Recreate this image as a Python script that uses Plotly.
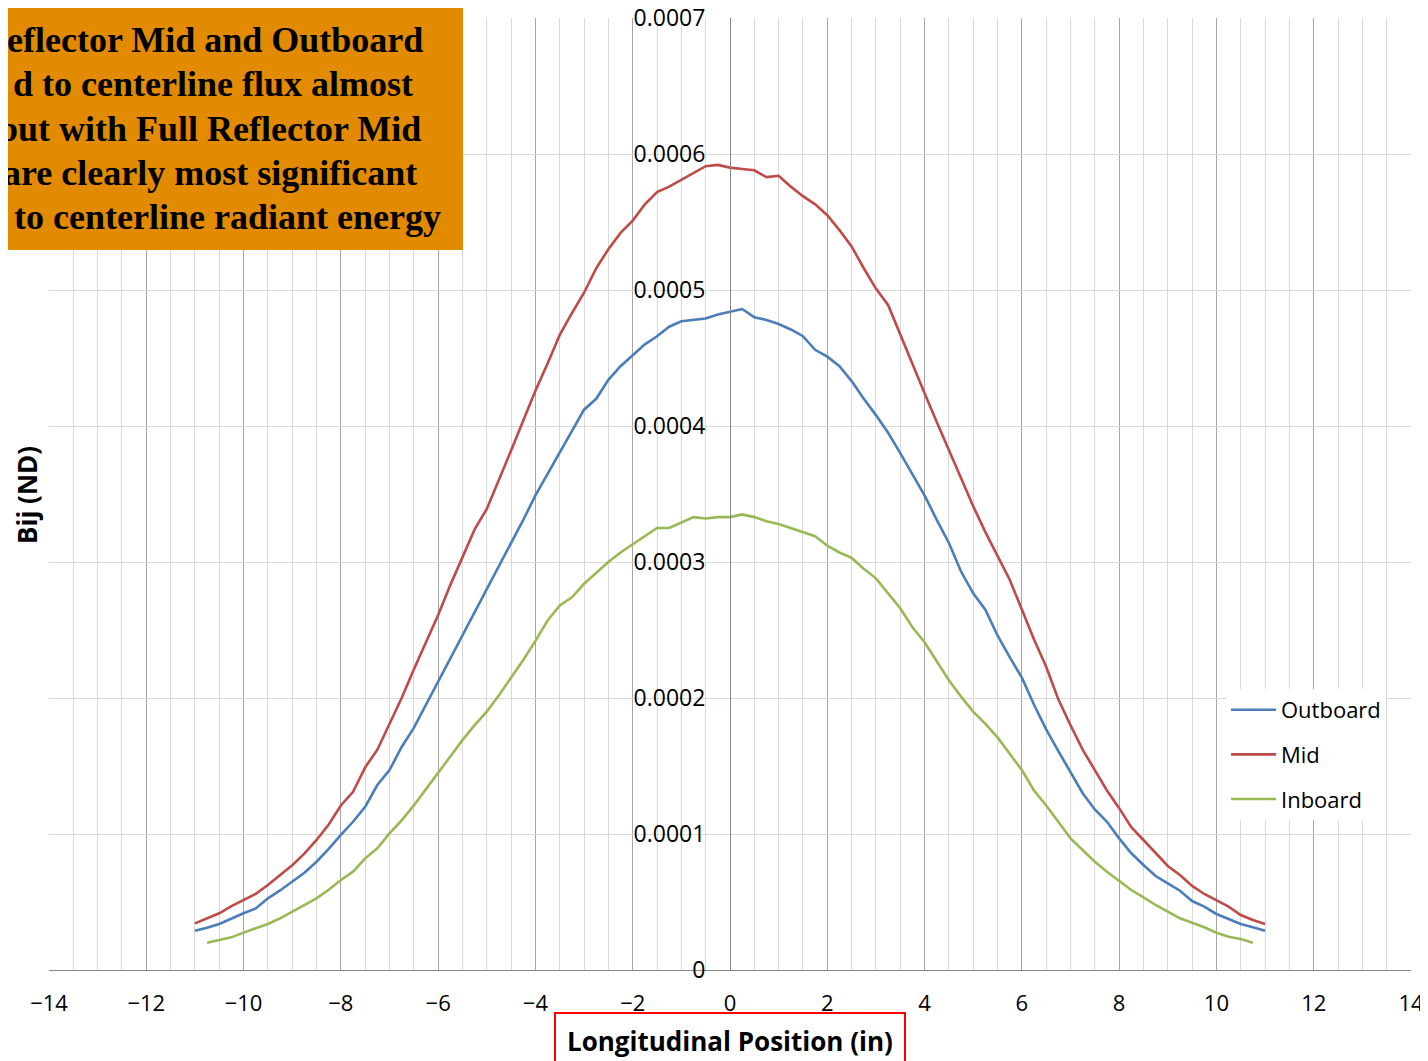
import plotly.graph_objects as go

# ---------------- data ----------------
pos_outer = [-11, -10.75, -10.5, -10.25, -10, -9.75, -9.5, -9.25, -9, -8.75, -8.5, -8.25, -8, -7.75,
             -7.5, -7.25, -7, -6.75, -6.5, -6.25, -6, -5.75, -5.5, -5.25, -5, -4.75, -4.5, -4.25,
             -4, -3.75, -3.5, -3.25, -3, -2.75, -2.5, -2.25, -2, -1.75, -1.5, -1.25, -1, -0.75,
             -0.5, -0.25, 0, 0.25, 0.5, 0.75, 1, 1.25, 1.5, 1.75, 2, 2.25, 2.5, 2.75, 3, 3.25,
             3.5, 3.75, 4, 4.25, 4.5, 4.75, 5, 5.25, 5.5, 5.75, 6, 6.25, 6.5, 6.75, 7, 7.25,
             7.5, 7.75, 8, 8.25, 8.5, 8.75, 9, 9.25, 9.5, 9.75, 10, 10.25, 10.5, 10.75, 11]

outboard = [2.89e-5, 3.10e-5, 3.38e-5, 3.80e-5, 4.17e-5, 4.53e-5, 5.27e-5, 5.85e-5, 6.49e-5, 7.15e-5,
            7.96e-5, 8.90e-5, 9.93e-5, 1.09e-4, 1.20e-4, 1.36e-4, 1.47e-4, 1.64e-4, 1.78e-4, 1.95e-4,
            2.12e-4, 2.29e-4, 2.46e-4, 2.62e-4, 2.79e-4, 2.96e-4, 3.14e-4, 3.31e-4, 3.49e-4, 3.65e-4,
            3.81e-4, 3.96e-4, 4.12e-4, 4.20e-4, 4.34e-4, 4.44e-4, 4.52e-4, 4.60e-4, 4.66e-4, 4.73e-4,
            4.77e-4, 4.78e-4, 4.79e-4, 4.82e-4, 4.84e-4, 4.86e-4, 4.80e-4, 4.78e-4, 4.75e-4, 4.71e-4,
            4.66e-4, 4.56e-4, 4.51e-4, 4.44e-4, 4.33e-4, 4.20e-4, 4.08e-4, 3.95e-4, 3.80e-4, 3.64e-4,
            3.49e-4, 3.31e-4, 3.14e-4, 2.93e-4, 2.77e-4, 2.65e-4, 2.46e-4, 2.30e-4, 2.15e-4, 1.95e-4,
            1.77e-4, 1.61e-4, 1.45e-4, 1.30e-4, 1.18e-4, 1.09e-4, 9.68e-5, 8.58e-5, 7.72e-5, 6.91e-5,
            6.37e-5, 5.83e-5, 5.07e-5, 4.66e-5, 4.12e-5, 3.73e-5, 3.38e-5, 3.14e-5, 2.89e-5]

mid = [3.43e-5, 3.80e-5, 4.17e-5, 4.70e-5, 5.15e-5, 5.60e-5, 6.25e-5, 6.95e-5, 7.70e-5, 8.55e-5,
       9.56e-5, 1.07e-4, 1.21e-4, 1.31e-4, 1.49e-4, 1.62e-4, 1.81e-4, 2.00e-4, 2.21e-4, 2.41e-4,
       2.61e-4, 2.83e-4, 3.04e-4, 3.24e-4, 3.39e-4, 3.60e-4, 3.82e-4, 4.04e-4, 4.26e-4, 4.46e-4,
       4.67e-4, 4.83e-4, 4.98e-4, 5.16e-4, 5.30e-4, 5.42e-4, 5.51e-4, 5.63e-4, 5.72e-4, 5.76e-4,
       5.81e-4, 5.86e-4, 5.91e-4, 5.92e-4, 5.90e-4, 5.89e-4, 5.88e-4, 5.83e-4, 5.84e-4, 5.76e-4,
       5.69e-4, 5.63e-4, 5.55e-4, 5.44e-4, 5.32e-4, 5.16e-4, 5.01e-4, 4.89e-4, 4.67e-4, 4.46e-4,
       4.24e-4, 4.03e-4, 3.82e-4, 3.61e-4, 3.41e-4, 3.22e-4, 3.04e-4, 2.87e-4, 2.65e-4, 2.43e-4,
       2.23e-4, 1.99e-4, 1.80e-4, 1.62e-4, 1.47e-4, 1.32e-4, 1.19e-4, 1.05e-4, 9.56e-5, 8.58e-5,
       7.65e-5, 6.99e-5, 6.18e-5, 5.59e-5, 5.15e-5, 4.66e-5, 4.04e-5, 3.68e-5, 3.38e-5]

pos_inner = [-10.75, -10.5, -10.25, -10, -9.75, -9.5, -9.25, -9, -8.75, -8.5, -8.25, -8, -7.75,
             -7.5, -7.25, -7, -6.75, -6.5, -6.25, -6, -5.75, -5.5, -5.25, -5, -4.75, -4.5, -4.25,
             -4, -3.75, -3.5, -3.25, -3, -2.75, -2.5, -2.25, -2, -1.75, -1.5, -1.25, -1, -0.75,
             -0.5, -0.25, 0, 0.25, 0.5, 0.75, 1, 1.25, 1.5, 1.75, 2, 2.25, 2.5, 2.75, 3, 3.25,
             3.5, 3.75, 4, 4.25, 4.5, 4.75, 5, 5.25, 5.5, 5.75, 6, 6.25, 6.5, 6.75, 7, 7.25,
             7.5, 7.75, 8, 8.25, 8.5, 8.75, 9, 9.25, 9.5, 9.75, 10, 10.25, 10.5, 10.75]

inboard = [2.01e-5, 2.21e-5, 2.40e-5, 2.75e-5, 3.05e-5, 3.38e-5, 3.80e-5, 4.29e-5, 4.78e-5, 5.27e-5,
           5.90e-5, 6.62e-5, 7.23e-5, 8.21e-5, 8.95e-5, 1.005e-4, 1.10e-4, 1.21e-4, 1.33e-4, 1.446e-4,
           1.57e-4, 1.69e-4, 1.80e-4, 1.90e-4, 2.02e-4, 2.15e-4, 2.28e-4, 2.42e-4, 2.57e-4, 2.68e-4,
           2.74e-4, 2.84e-4, 2.92e-4, 3.00e-4, 3.07e-4, 3.13e-4, 3.19e-4, 3.25e-4, 3.25e-4, 3.29e-4,
           3.33e-4, 3.32e-4, 3.33e-4, 3.33e-4, 3.35e-4, 3.33e-4, 3.30e-4, 3.28e-4, 3.25e-4, 3.22e-4,
           3.19e-4, 3.12e-4, 3.07e-4, 3.03e-4, 2.95e-4, 2.88e-4, 2.77e-4, 2.66e-4, 2.52e-4, 2.41e-4,
           2.27e-4, 2.13e-4, 2.01e-4, 1.90e-4, 1.81e-4, 1.71e-4, 1.59e-4, 1.47e-4, 1.32e-4, 1.21e-4,
           1.09e-4, 9.68e-5, 8.82e-5, 7.96e-5, 7.23e-5, 6.57e-5, 5.88e-5, 5.34e-5, 4.78e-5, 4.29e-5,
           3.80e-5, 3.48e-5, 3.14e-5, 2.74e-5, 2.45e-5, 2.28e-5, 2.01e-5]

x_ticks = [-14, -12, -10, -8, -6, -4, -2, 0, 2, 4, 6, 8, 10, 12, 14]
y_ticks = [0, 0.0001, 0.0002, 0.0003, 0.0004, 0.0005, 0.0006, 0.0007]
y_tick_text = ["0", "0.0001", "0.0002", "0.0003", "0.0004", "0.0005", "0.0006", "0.0007"]

note_lines = ["eflector Mid and Outboard",
              "d to centerline flux almost",
              "but with Full Reflector Mid",
              "are clearly most significant",
              "to centerline radiant energy"]

# ---------------- layout helpers ----------------
# The page body adds an 8px offset; the figure is sized so the plot lands where the reference has it.
OFF = 8
W, H = 1428 - OFF, 1061 - OFF
ML, MT = 49 - OFF, 18 - OFF
MR = W - (1411 - OFF)
MB = H - (970 - OFF)
PW, PH = W - ML - MR, H - MT - MB


def px(xp):  # page pixel x -> paper fraction
    return (xp - OFF - ML) / PW


def py(yp):  # page pixel y -> paper fraction
    return (H - MB - (yp - OFF)) / PH


SANS = "Open Sans"
fig = go.Figure()
fig.add_trace(go.Scatter(x=pos_outer, y=outboard, mode="lines", name="Outboard",
                         legendgroup="a", line=dict(color="#4A7EBB", width=2.6)))
fig.add_trace(go.Scatter(x=pos_outer, y=mid, mode="lines", name="Mid",
                         legendgroup="b", line=dict(color="#BE4B48", width=2.6)))
fig.add_trace(go.Scatter(x=pos_inner, y=inboard, mode="lines", name="Inboard",
                         legendgroup="c", line=dict(color="#98B954", width=2.6)))

annotations = [
    dict(text="<b>Longitudinal Position (in)</b>", x=px(730), y=py(1041), xref="paper", yref="paper",
         showarrow=False, xanchor="center", yanchor="middle",
         font=dict(family=SANS, size=26, color="black")),
    dict(text="<b>Bij (ND)</b>", x=px(27), y=py(495), xref="paper", yref="paper",
         showarrow=False, xanchor="center", yanchor="middle", textangle=-90,
         font=dict(family=SANS, size=26, color="black")),
]
right_edges = [425, 415, 423, 419, 443]
centers = [40, 84, 129, 173, 217]
for txt, re_, cy in zip(note_lines, right_edges, centers):
    annotations.append(dict(text="<b>" + txt + "</b>", x=px(re_), y=py(cy), xref="paper", yref="paper",
                            showarrow=False, xanchor="right", yanchor="middle",
                            font=dict(family="Liberation Serif", size=36, color="black")))

shapes = [
    dict(type="rect", xref="paper", yref="paper", x0=px(-20), x1=px(463), y0=py(5), y1=py(250),
         fillcolor="#E28A00", line=dict(width=0), layer="above"),
    dict(type="rect", xref="paper", yref="paper", x0=px(555), x1=px(905), y0=py(1013), y1=py(1075),
         fillcolor="white", line=dict(color="#FF0000", width=2), layer="above"),
]

fig.update_layout(
    width=W, height=H,
    margin=dict(l=ML, r=MR, t=MT, b=MB, pad=0, autoexpand=False),
    paper_bgcolor="white", plot_bgcolor="white",
    showlegend=True,
    legend=dict(x=px(1226), y=py(689), xanchor="left", yanchor="top", itemwidth=45,
                bgcolor="white", borderwidth=0, traceorder="grouped", tracegroupgap=13,
                font=dict(family=SANS, size=22, color="black")),
    xaxis=dict(range=[-14, 14], tickvals=x_ticks, showgrid=True, gridcolor="#A6A6A6", gridwidth=1,
               minor=dict(dtick=0.5, showgrid=True, gridcolor="#D9D9D9", gridwidth=1),
               zeroline=False, showline=True, linecolor="#868686", linewidth=1, ticks="",
               ticklabelstandoff=14, automargin=False, ticklabeloverflow="allow",
               tickfont=dict(family=SANS, size=22, color="black"), anchor="y"),
    yaxis=dict(range=[0, 0.0007], tickvals=y_ticks, ticktext=y_tick_text, showgrid=True,
               gridcolor="#D9D9D9", gridwidth=1, zeroline=False, showline=True, linecolor="#868686",
               linewidth=1, ticks="", anchor="free", position=0.5, ticklabelstandoff=20,
               automargin=False, ticklabeloverflow="allow",
               tickfont=dict(family=SANS, size=23, color="black")),
    annotations=annotations,
    shapes=shapes,
)

fig.write_html("out.html")
